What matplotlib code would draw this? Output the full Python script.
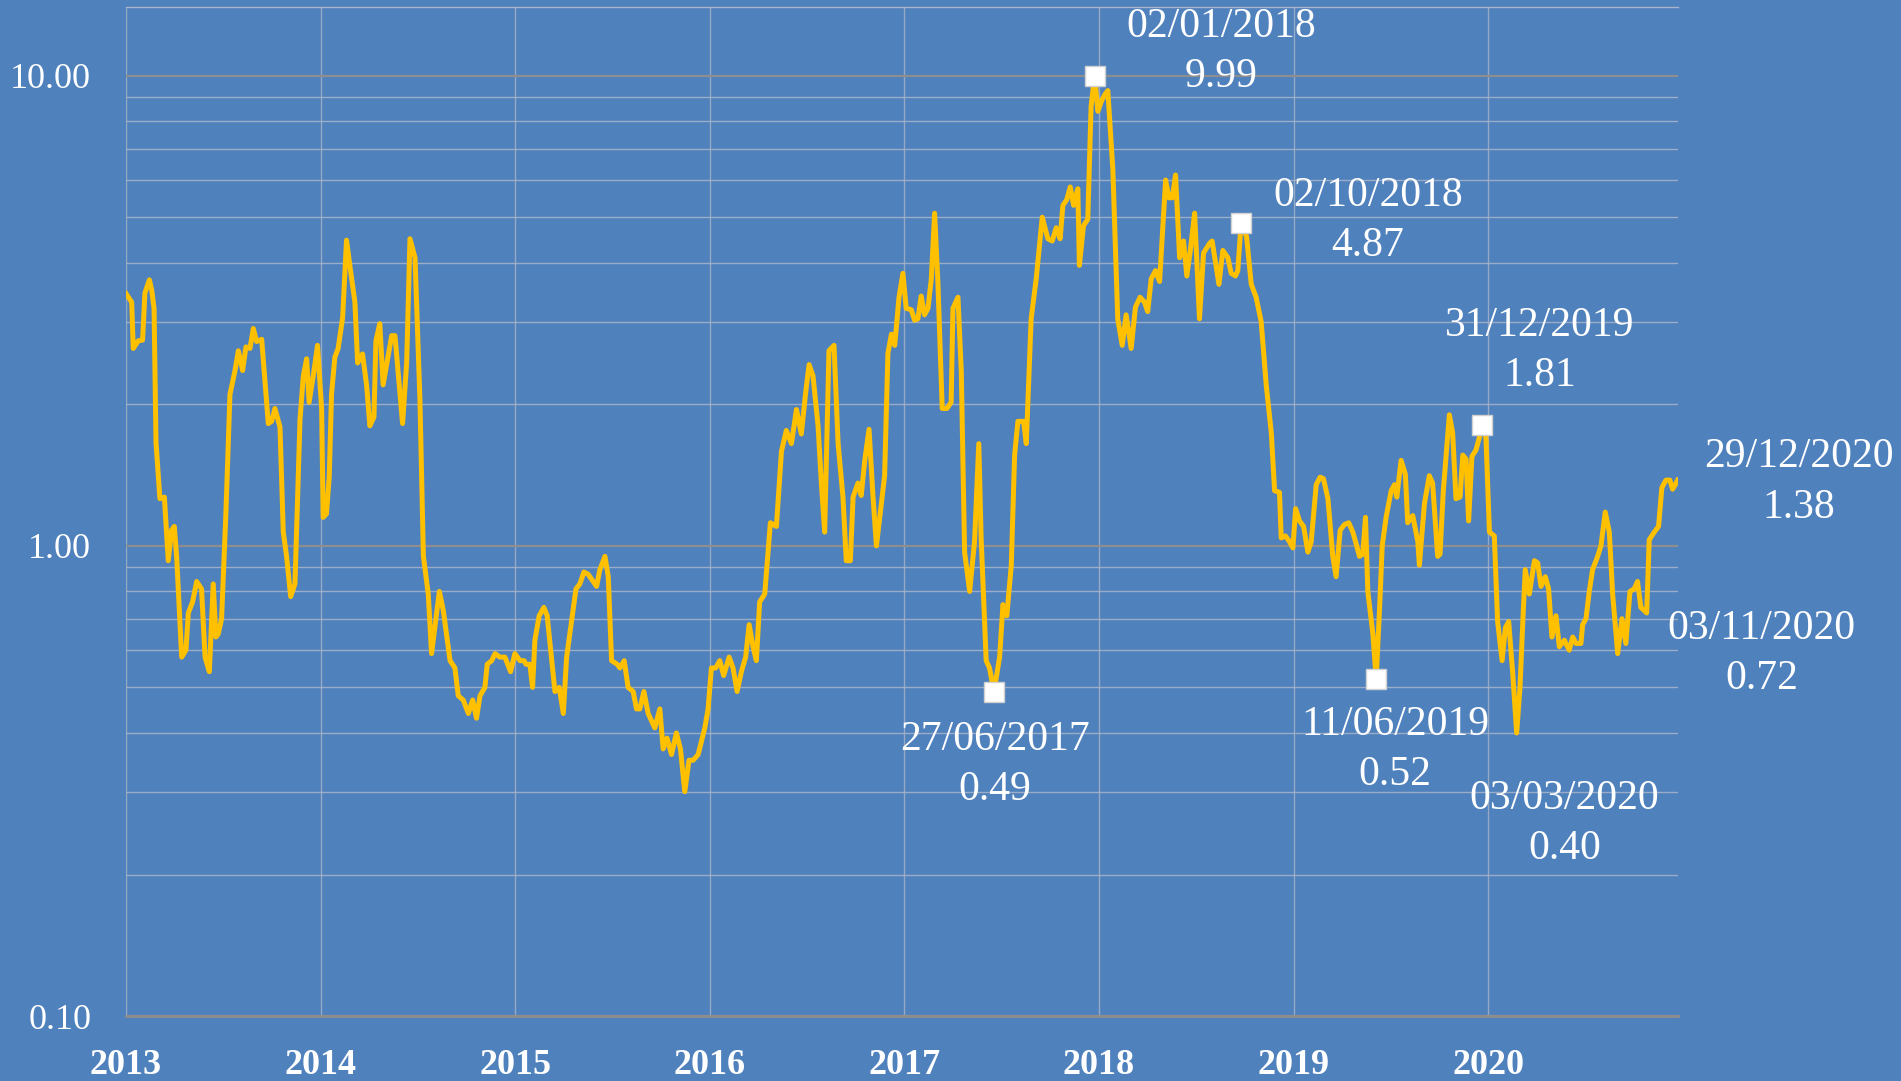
import matplotlib
matplotlib.use("Agg")
import matplotlib.pyplot as plt
from matplotlib.ticker import FixedLocator, NullFormatter

# ---- data (decimal year, value) ----
years = [
    2013.000, 2013.029, 2013.037, 2013.063, 2013.085, 2013.097, 2013.120, 2013.132, 2013.144, 2013.154,
    2013.174, 2013.197, 2013.217, 2013.234, 2013.248, 2013.260, 2013.286, 2013.308, 2013.320, 2013.342,
    2013.363, 2013.388, 2013.406, 2013.428, 2013.448, 2013.462, 2013.474, 2013.491, 2013.513, 2013.534,
    2013.560, 2013.577, 2013.599, 2013.616, 2013.637, 2013.654, 2013.671, 2013.697, 2013.731, 2013.748,
    2013.765, 2013.791, 2013.808, 2013.825, 2013.846, 2013.868, 2013.894, 2013.911, 2013.928, 2013.941,
    2013.962, 2013.984, 2014.005, 2014.013, 2014.030, 2014.044, 2014.056, 2014.073, 2014.090, 2014.113,
    2014.133, 2014.150, 2014.176, 2014.190, 2014.215, 2014.236, 2014.253, 2014.274, 2014.284, 2014.304,
    2014.321, 2014.365, 2014.382, 2014.421, 2014.442, 2014.459, 2014.485, 2014.510, 2014.528, 2014.553,
    2014.570, 2014.610, 2014.630, 2014.665, 2014.690, 2014.707, 2014.733, 2014.759, 2014.781, 2014.801,
    2014.819, 2014.844, 2014.856, 2014.879, 2014.896, 2014.921, 2014.947, 2014.976, 2014.998, 2015.024,
    2015.045, 2015.055, 2015.075, 2015.089, 2015.101, 2015.123, 2015.147, 2015.164, 2015.182, 2015.204,
    2015.226, 2015.247, 2015.264, 2015.289, 2015.312, 2015.332, 2015.353, 2015.375, 2015.418, 2015.435,
    2015.461, 2015.478, 2015.495, 2015.524, 2015.538, 2015.560, 2015.580, 2015.606, 2015.623, 2015.640,
    2015.661, 2015.683, 2015.717, 2015.743, 2015.760, 2015.780, 2015.803, 2015.828, 2015.849, 2015.871,
    2015.893, 2015.914, 2015.940, 2015.974, 2015.991, 2016.008, 2016.030, 2016.051, 2016.071, 2016.099,
    2016.119, 2016.140, 2016.162, 2016.184, 2016.202, 2016.222, 2016.239, 2016.256, 2016.282, 2016.311,
    2016.342, 2016.368, 2016.393, 2016.419, 2016.445, 2016.470, 2016.493, 2016.510, 2016.530, 2016.556,
    2016.573, 2016.590, 2016.612, 2016.638, 2016.659, 2016.684, 2016.701, 2016.722, 2016.736, 2016.761,
    2016.778, 2016.796, 2016.818, 2016.838, 2016.856, 2016.873, 2016.898, 2016.915, 2016.933, 2016.950,
    2016.972, 2016.992, 2017.009, 2017.035, 2017.052, 2017.069, 2017.086, 2017.103, 2017.121, 2017.138,
    2017.155, 2017.172, 2017.194, 2017.218, 2017.240, 2017.249, 2017.275, 2017.292, 2017.309, 2017.335,
    2017.360, 2017.382, 2017.394, 2017.420, 2017.437, 2017.460, 2017.489, 2017.506, 2017.526, 2017.549,
    2017.566, 2017.583, 2017.612, 2017.626, 2017.651, 2017.677, 2017.708, 2017.737, 2017.759, 2017.780,
    2017.800, 2017.814, 2017.834, 2017.852, 2017.869, 2017.891, 2017.899, 2017.920, 2017.942, 2017.959,
    2017.977, 2017.994, 2018.011, 2018.028, 2018.045, 2018.071, 2018.096, 2018.119, 2018.139, 2018.165,
    2018.187, 2018.211, 2018.233, 2018.250, 2018.268, 2018.290, 2018.311, 2018.342, 2018.359, 2018.376,
    2018.393, 2018.414, 2018.434, 2018.451, 2018.469, 2018.491, 2018.516, 2018.537, 2018.568, 2018.581,
    2018.616, 2018.636, 2018.662, 2018.679, 2018.701, 2018.713, 2018.730, 2018.758, 2018.782, 2018.807,
    2018.833, 2018.859, 2018.885, 2018.902, 2018.927, 2018.936, 2018.958, 2018.979, 2018.996, 2019.010,
    2019.030, 2019.051, 2019.073, 2019.090, 2019.116, 2019.136, 2019.153, 2019.176, 2019.201, 2019.218,
    2019.239, 2019.261, 2019.283, 2019.304, 2019.324, 2019.338, 2019.355, 2019.369, 2019.381, 2019.407,
    2019.424, 2019.441, 2019.455, 2019.475, 2019.501, 2019.518, 2019.530, 2019.552, 2019.574, 2019.586,
    2019.612, 2019.638, 2019.646, 2019.672, 2019.697, 2019.714, 2019.740, 2019.752, 2019.769, 2019.783,
    2019.800, 2019.817, 2019.834, 2019.855, 2019.869, 2019.886, 2019.899, 2019.916, 2019.937, 2019.954,
    2019.968, 2019.988, 2020.006, 2020.031, 2020.048, 2020.071, 2020.088, 2020.105, 2020.125, 2020.146,
    2020.163, 2020.180, 2020.190, 2020.211, 2020.237, 2020.254, 2020.271, 2020.293, 2020.310, 2020.327,
    2020.348, 2020.365, 2020.391, 2020.416, 2020.434, 2020.451, 2020.476, 2020.485, 2020.502, 2020.519,
    2020.536, 2020.562, 2020.579, 2020.601, 2020.622, 2020.639, 2020.665, 2020.687, 2020.707, 2020.728,
    2020.750, 2020.767, 2020.784, 2020.814, 2020.827, 2020.853, 2020.875, 2020.892, 2020.913, 2020.933,
    2020.947, 2020.961, 2020.973,
]
values = [
    3.44, 3.30, 2.63, 2.73, 2.74, 3.45, 3.68, 3.50, 3.20, 1.66,
    1.26, 1.27, 0.93, 1.08, 1.10, 0.95, 0.58, 0.60, 0.72, 0.76,
    0.84, 0.81, 0.58, 0.54, 0.83, 0.64, 0.65, 0.70, 1.17, 2.10,
    2.36, 2.60, 2.36, 2.65, 2.63, 2.90, 2.72, 2.75, 1.82, 1.84,
    1.96, 1.79, 1.07, 0.95, 0.78, 0.83, 1.86, 2.30, 2.50, 2.02,
    2.30, 2.67, 1.96, 1.15, 1.17, 1.40, 2.10, 2.52, 2.63, 3.06,
    4.47, 3.95, 3.30, 2.45, 2.56, 2.20, 1.80, 1.88, 2.73, 2.97,
    2.20, 2.80, 2.80, 1.82, 2.45, 4.50, 4.10, 2.06, 0.95, 0.79,
    0.59, 0.80, 0.73, 0.57, 0.55, 0.48, 0.47, 0.44, 0.47, 0.43,
    0.48, 0.50, 0.56, 0.57, 0.59, 0.58, 0.58, 0.54, 0.59, 0.57,
    0.57, 0.56, 0.56, 0.50, 0.63, 0.71, 0.74, 0.71, 0.60, 0.49,
    0.50, 0.44, 0.58, 0.69, 0.81, 0.83, 0.88, 0.87, 0.82, 0.89,
    0.95, 0.86, 0.57, 0.56, 0.55, 0.57, 0.50, 0.49, 0.45, 0.45,
    0.49, 0.44, 0.41, 0.45, 0.37, 0.39, 0.36, 0.40, 0.37, 0.30,
    0.35, 0.35, 0.36, 0.41, 0.45, 0.55, 0.55, 0.57, 0.53, 0.58,
    0.55, 0.49, 0.54, 0.58, 0.68, 0.61, 0.57, 0.76, 0.79, 1.12,
    1.10, 1.59, 1.76, 1.65, 1.95, 1.73, 2.13, 2.43, 2.30, 1.80,
    1.36, 1.07, 2.60, 2.67, 1.65, 1.27, 0.93, 0.93, 1.27, 1.36,
    1.28, 1.52, 1.77, 1.28, 1.00, 1.15, 1.41, 2.57, 2.82, 2.67,
    3.38, 3.80, 3.20, 3.18, 3.02, 3.04, 3.40, 3.10, 3.20, 3.70,
    5.10, 3.62, 1.96, 1.96, 2.02, 3.20, 3.38, 2.35, 0.97, 0.80,
    1.02, 1.65, 1.04, 0.57, 0.55, 0.49, 0.58, 0.75, 0.71, 0.91,
    1.56, 1.84, 1.84, 1.65, 3.04, 3.70, 5.00, 4.50, 4.45, 4.75,
    4.50, 5.30, 5.45, 5.80, 5.30, 5.75, 3.95, 4.80, 4.95, 8.60,
    9.99, 8.40, 8.80, 9.10, 9.30, 6.30, 3.04, 2.67, 3.10, 2.63,
    3.22, 3.38, 3.30, 3.15, 3.70, 3.85, 3.65, 6.00, 5.50, 5.50,
    6.15, 4.10, 4.45, 3.75, 4.25, 5.10, 3.04, 4.20, 4.40, 4.45,
    3.60, 4.25, 4.10, 3.80, 3.75, 3.85, 4.87, 4.55, 3.60, 3.38,
    3.00, 2.20, 1.74, 1.31, 1.30, 1.04, 1.05, 1.02, 0.99, 1.20,
    1.13, 1.10, 0.97, 1.02, 1.35, 1.40, 1.39, 1.26, 0.95, 0.86,
    1.08, 1.11, 1.12, 1.07, 1.00, 0.95, 0.96, 1.15, 0.80, 0.65,
    0.52, 0.73, 1.00, 1.15, 1.31, 1.35, 1.27, 1.52, 1.42, 1.12,
    1.16, 1.02, 0.91, 1.23, 1.41, 1.36, 0.95, 0.96, 1.31, 1.55,
    1.90, 1.74, 1.26, 1.27, 1.56, 1.53, 1.13, 1.55, 1.60, 1.70,
    1.81, 1.70, 1.07, 1.05, 0.69, 0.57, 0.67, 0.69, 0.54, 0.40,
    0.50, 0.73, 0.89, 0.79, 0.93, 0.92, 0.82, 0.86, 0.81, 0.64,
    0.71, 0.61, 0.63, 0.60, 0.64, 0.62, 0.62, 0.68, 0.70, 0.80,
    0.89, 0.95, 1.00, 1.18, 1.07, 0.79, 0.59, 0.70, 0.62, 0.80,
    0.81, 0.84, 0.74, 0.72, 1.03, 1.07, 1.10, 1.33, 1.38, 1.38,
    1.32, 1.35, 1.38,
]

year_ticks = [2013, 2014, 2015, 2016, 2017, 2018, 2019, 2020]
y_ticks = [0.1, 1.0, 10.0]
y_tick_labels = ["0.10", "1.00", "10.00"]

ann_dates = ["02/01/2018", "02/10/2018", "31/12/2019", "29/12/2020",
             "03/11/2020", "03/03/2020", "11/06/2019", "27/06/2017"]
ann_years = [2017.977, 2018.730, 2019.968, 2020.973, 2020.814, 2020.146, 2019.424, 2017.460]
ann_values = [9.99, 4.87, 1.81, 1.38, 0.72, 0.40, 0.52, 0.49]
ann_marker = [True, True, True, False, False, False, True, True]

# layout (offsets of label centres from the point, in pixels)
ann_offsets = [(127, 24), (127, 2), (58, 74), (121, -2), (115, -41), (48, -91), (19, -70), (1, -73)]

BG = "#4F81BD"
LINE = "#FFC000"
SERIF = ["Liberation Serif", "DejaVu Serif"]

fig = plt.figure(figsize=(19.01, 10.81), dpi=100, facecolor=BG)
ax = fig.add_axes([0.0663, 0.0601, 0.8164, 0.9334])
ax.set_facecolor(BG)
ax.set_yscale("log")
ax.set_xlim(2013.0, 2020.975)
ax.set_ylim(0.1, 14.0)

# grid
ax.yaxis.set_major_locator(FixedLocator(y_ticks))
minor = [m * d for d in (0.1, 1.0) for m in range(2, 10)]
ax.yaxis.set_minor_locator(FixedLocator(minor))
ax.yaxis.set_minor_formatter(NullFormatter())
ax.set_yticklabels(y_tick_labels)
ax.xaxis.set_major_locator(FixedLocator(year_ticks))
ax.set_xticklabels([str(y) for y in year_ticks])

ax.grid(True, which="major", axis="y", color="#8E8E8E", linewidth=1.6, zorder=0)
ax.grid(True, which="minor", axis="y", color="#A9B4C8", linewidth=1.0, alpha=0.85, zorder=0)
ax.grid(True, which="major", axis="x", color="#A9B4C8", linewidth=1.0, alpha=0.8, zorder=0)
ax.set_axisbelow(True)

for side in ("left", "right"):
    ax.spines[side].set_visible(False)
ax.spines["top"].set_color("#A9B4C8")
ax.spines["top"].set_linewidth(1.0)
ax.spines["bottom"].set_color("#8E8E8E")
ax.spines["bottom"].set_linewidth(2.0)

ax.tick_params(axis="both", which="both", length=0)
ax.tick_params(axis="y", pad=25)
ax.tick_params(axis="x", pad=24)
for lab in ax.get_yticklabels():
    lab.set_fontfamily(SERIF)
    lab.set_fontsize(26)
    lab.set_color("white")
for lab in ax.get_xticklabels():
    lab.set_fontfamily(SERIF)
    lab.set_fontsize(26)
    lab.set_fontweight("bold")
    lab.set_color("white")

ax.plot(years, values, color=LINE, linewidth=3.6, solid_joinstyle="round", zorder=3)

for d, x, v, m, off in zip(ann_dates, ann_years, ann_values, ann_marker, ann_offsets):
    if m:
        ax.plot([x], [v], marker="s", markersize=15, markerfacecolor="white",
                markeredgecolor="#D0D0D0", markeredgewidth=1.0, linestyle="none", zorder=4)
    ax.annotate(f"{d}\n{v:.2f}", xy=(x, v), xytext=off, textcoords="offset pixels",
                ha="center", va="center", multialignment="center", linespacing=1.4,
                fontsize=30, color="white", fontfamily=SERIF,
                annotation_clip=False, zorder=5)

fig.savefig("out.png", dpi=100, facecolor=BG)
